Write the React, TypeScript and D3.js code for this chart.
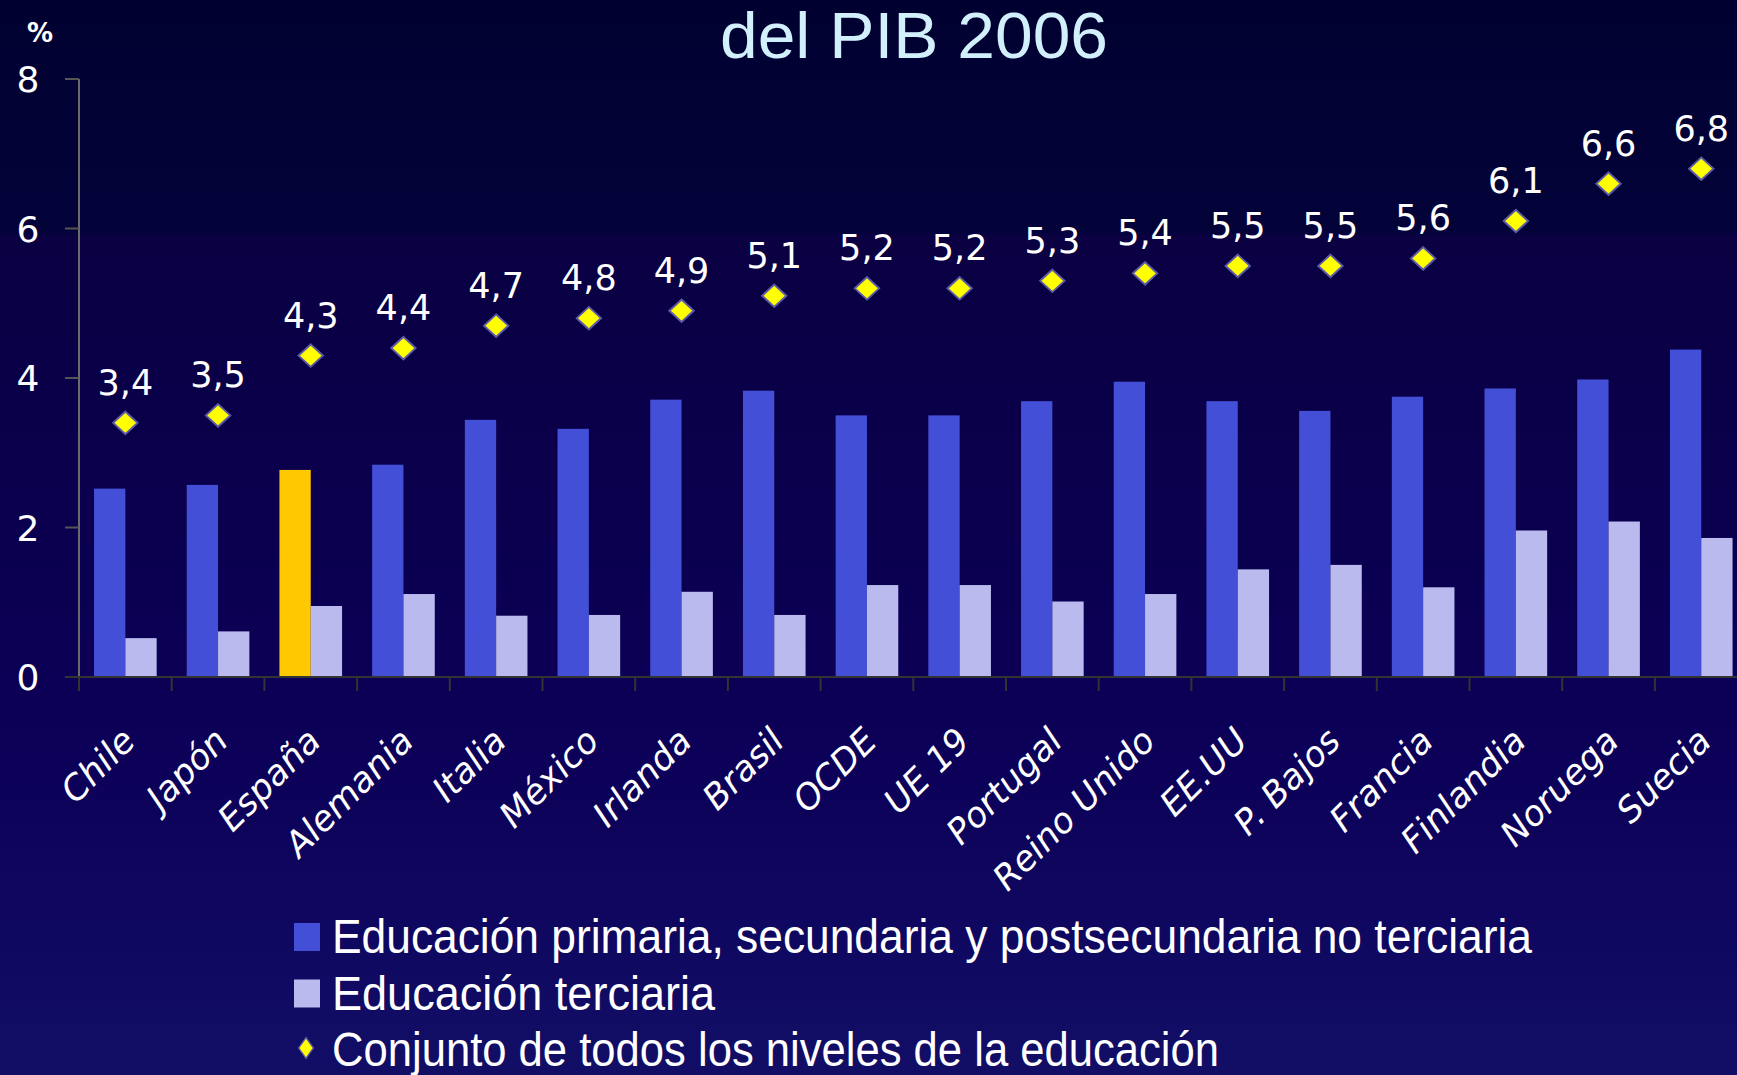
import React from "react";
import * as d3 from "d3";

const categories = ["Chile","Japón","España","Alemania","Italia","México","Irlanda","Brasil","OCDE","UE 19","Portugal","Reino Unido","EE.UU","P. Bajos","Francia","Finlandia","Noruega","Suecia"];
const primary = [2.52,2.57,2.77,2.84,3.44,3.32,3.71,3.83,3.50,3.50,3.69,3.95,3.69,3.56,3.75,3.86,3.98,4.38];
const tertiary = [0.52,0.61,0.95,1.11,0.82,0.83,1.14,0.83,1.23,1.23,1.01,1.11,1.44,1.50,1.20,1.96,2.08,1.86];
const total = [3.4,3.5,4.3,4.4,4.7,4.8,4.9,5.1,5.2,5.2,5.3,5.4,5.5,5.5,5.6,6.1,6.6,6.8];
const highlight = "España";
const yTicks = [0,2,4,6,8];
const title = "del PIB 2006";
const legendItems = [
  "Educación primaria, secundaria y postsecundaria no terciaria",
  "Educación terciaria",
  "Conjunto de todos los niveles de la educación",
];

const W = 1737, H = 1075;
const COL_P = "#444fd7", COL_T = "#babaee", COL_H = "#ffc800";

export default function App() {
  const band = 92.7;
  const x = d3.scaleBand<string>().domain(categories).range([79, 79 + band * categories.length]).paddingInner(0).paddingOuter(0);
  const sub = d3.scaleBand<string>().domain(["p", "t"]).range([0, x.bandwidth()]).paddingInner(0).paddingOuter(0.48);
  const y = d3.scaleLinear().domain([0, 8]).range([677, 79]);
  const fmt = (v: number) => d3.format(".1f")(v).replace(".", ",");
  const diamond = d3.symbol().type(d3.symbolDiamond2).size(380)();
  const font = "'DejaVu Sans', sans-serif";
  const legendW = [1200, 383, 887];

  return (
    <svg width={W} height={H} style={{ position: "absolute", left: 0, top: 0 }} xmlns="http://www.w3.org/2000/svg">
      <defs>
        <linearGradient id="bg" x1="0" y1="0" x2="0" y2="1">
          <stop offset="0" stopColor="#000030" />
          <stop offset="0.215" stopColor="#03033a" />
          <stop offset="0.22" stopColor="#0a0042" />
          <stop offset="0.5" stopColor="#0a004f" />
          <stop offset="0.7" stopColor="#0c0058" />
          <stop offset="1" stopColor="#120e66" />
        </linearGradient>
      </defs>
      <rect x={0} y={0} width={W} height={H} fill="url(#bg)" />

      <text x={914} y={58} textAnchor="middle" fontFamily="'Liberation Sans', sans-serif" fontSize={64} fill="#d2effc" textLength={388} lengthAdjust="spacingAndGlyphs">{title}</text>
      <text x={40} y={42} textAnchor="middle" fontFamily={font} fontSize={26} fontWeight="bold" fill="#ffffff">%</text>

      {/* y axis */}
      <line x1={79} x2={79} y1={y(8)} y2={690} stroke="#6a6a6a" strokeWidth={2} />
      {yTicks.map(t => (
        <g key={t}>
          <line x1={65} x2={79} y1={y(t)} y2={y(t)} stroke={t === 0 ? "#333" : "#555"} strokeWidth={2} />
          <text x={28} y={y(t) + 13} textAnchor="middle" fontFamily={font} fontSize={36} fill="#ffffff">{t}</text>
        </g>
      ))}

      {/* bars */}
      {categories.map((c, i) => {
        const x0 = x(c)!;
        return (
          <g key={c}>
            <rect x={x0 + sub("p")!} y={y(primary[i])} width={sub.bandwidth()} height={y(0) - y(primary[i])} fill={c === highlight ? COL_H : COL_P} />
            <rect x={x0 + sub("t")!} y={y(tertiary[i])} width={sub.bandwidth()} height={y(0) - y(tertiary[i])} fill={COL_T} />
          </g>
        );
      })}

      {/* x axis */}
      <line x1={65} x2={W} y1={y(0)} y2={y(0)} stroke="#333" strokeWidth={2} />
      {categories.map(c => (
        <line key={c} x1={x(c)!} x2={x(c)!} y1={y(0)} y2={y(0) + 14} stroke="#333" strokeWidth={2} />
      ))}

      {/* totals */}
      {categories.map((c, i) => {
        const cx = x(c)! + x.bandwidth() / 2;
        const cy = y(total[i]);
        return (
          <g key={c}>
            <path d={diamond!} transform={`translate(${cx},${cy}) scale(1,0.92)`} fill="#ffff00" stroke="#5a5aa8" strokeWidth={2} />
            <text x={cx} y={cy - 28} textAnchor="middle" fontFamily={font} fontSize={35} fill="#ffffff">{fmt(total[i])}</text>
          </g>
        );
      })}

      {/* category labels */}
      {categories.map(c => {
        const cx = x(c)! + x.bandwidth() / 2;
        return (
          <text key={c} transform={`translate(${cx + 12},${743}) rotate(-45)`} textAnchor="end" fontFamily={font} fontStyle="italic" fontSize={35} fill="#ffffff">{c}</text>
        );
      })}

      {/* legend */}
      {legendItems.map((l, i) => {
        const by = 953 + i * 56.5;
        return (
          <g key={l}>
            {i < 2 ? (
              <rect x={294} y={by - 30} width={26} height={28} fill={i === 0 ? COL_P : COL_T} />
            ) : (
              <path d={diamond!} transform={`translate(306,${by - 18}) scale(0.6,0.85)`} fill="#ffff00" stroke="#5a5aa8" strokeWidth={2} />
            )}
            <text x={332} y={by} fontFamily="'Liberation Sans', sans-serif" fontSize={48} fill="#ffffff" textLength={legendW[i]} lengthAdjust="spacingAndGlyphs">{l}</text>
          </g>
        );
      })}
    </svg>
  );
}
